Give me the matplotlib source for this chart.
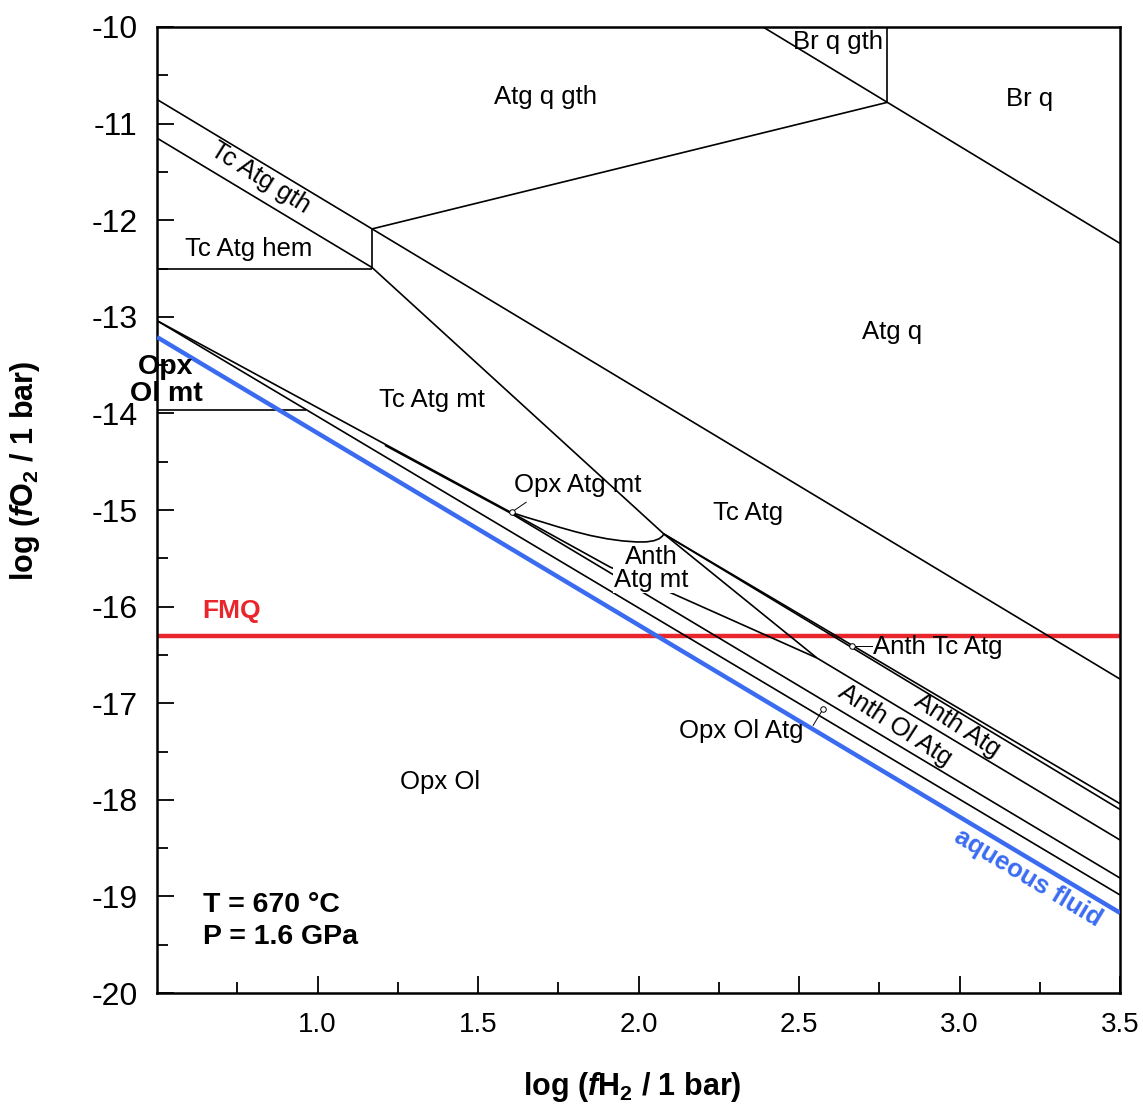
import matplotlib
matplotlib.use('Agg')
import matplotlib.pyplot as plt

plt.rcParams['font.family'] = ['Liberation Sans', 'DejaVu Sans']
plt.rcParams['axes.unicode_minus'] = False
plt.rcParams['mathtext.fontset'] = 'custom'
plt.rcParams['mathtext.rm'] = 'Liberation Sans:bold'
plt.rcParams['mathtext.it'] = 'Liberation Sans:italic:bold'
plt.rcParams['mathtext.bf'] = 'Liberation Sans:bold'

# ---- phase boundaries: x = log fH2, y = log fO2 ----
tc_atg_gth_top_x = [0.5, 3.5]
tc_atg_gth_top_y = [-10.75, -16.75]
tc_atg_gth_bot_x = [0.5, 1.17, 2.079]
tc_atg_gth_bot_y = [-11.15, -12.49, -15.248]
hem_x = [0.5, 1.17]
hem_y = [-12.5, -12.5]
hem_gth_x = [1.17, 1.17]
hem_gth_y = [-12.09, -12.5]
atg_q_gth_x = [1.17, 2.775]
atg_q_gth_y = [-12.09, -10.78]
br_q_gth_x = [2.775, 2.775]
br_q_gth_y = [-10.0, -10.78]
br_q_x = [2.388, 3.5]
br_q_y = [-10.0, -12.24]
opx_ol_mt_x = [0.5, 0.965]
opx_ol_mt_y = [-13.965, -13.965]
tc_atg_mt_low_x = [0.5, 1.60]
tc_atg_mt_low_y = [-13.04, -15.02]
opx_ol_x = [0.5, 3.5]
opx_ol_y = [-13.04, -18.985]
opx_atg_mt_low_x = [1.21, 1.60, 3.5]
opx_atg_mt_low_y = [-14.33, -15.03, -18.81]
anth_curve_x = [1.600, 1.650, 1.700, 1.750, 1.800, 1.850, 1.902, 1.950,
                1.995, 2.025, 2.048, 2.064, 2.074, 2.079]
anth_curve_y = [-15.02, -15.075, -15.124, -15.175, -15.222, -15.264, -15.298, -15.320,
                -15.331, -15.330, -15.318, -15.298, -15.272, -15.248]
anth_atg_mt_low_x = [1.60, 1.911, 2.067, 2.556]
anth_atg_mt_low_y = [-15.02, -15.59, -15.807, -16.532]
anth_steep_x = [2.079, 2.556]
anth_steep_y = [-15.248, -16.532]
anth_ol_atg_top_x = [2.556, 3.5]
anth_ol_atg_top_y = [-16.532, -18.416]
anth_tc_atg_a_x = [2.079, 3.5]
anth_tc_atg_a_y = [-15.248, -18.04]
anth_tc_atg_b_x = [2.079, 3.5]
anth_tc_atg_b_y = [-15.248, -18.10]

fmq_y = -16.3
fluid_x = [0.5, 3.5]
fluid_y = [-13.21, -19.17]

# leader lines
lead_opx_atg_mt_x = [1.606, 1.65]
lead_opx_atg_mt_y = [-15.02, -14.92]
lead_anth_tc_atg_x = [2.665, 2.727]
lead_anth_tc_atg_y = [-16.41, -16.41]
lead_opx_ol_atg_x = [2.575, 2.544]
lead_opx_ol_atg_y = [-17.06, -17.23]

fig = plt.figure(figsize=(11.43, 11.06), dpi=100)
ax = fig.add_axes([157/1143, 1-993/1106, 963/1143, 966/1106])

lw = 1.2
black_lines = [
    (tc_atg_gth_top_x, tc_atg_gth_top_y), (tc_atg_gth_bot_x, tc_atg_gth_bot_y),
    (hem_x, hem_y), (hem_gth_x, hem_gth_y), (atg_q_gth_x, atg_q_gth_y),
    (br_q_gth_x, br_q_gth_y), (br_q_x, br_q_y), (opx_ol_mt_x, opx_ol_mt_y),
    (tc_atg_mt_low_x, tc_atg_mt_low_y), (opx_ol_x, opx_ol_y),
    (opx_atg_mt_low_x, opx_atg_mt_low_y), (anth_curve_x, anth_curve_y),
    (anth_atg_mt_low_x, anth_atg_mt_low_y), (anth_steep_x, anth_steep_y),
    (anth_ol_atg_top_x, anth_ol_atg_top_y), (anth_tc_atg_a_x, anth_tc_atg_a_y),
    (anth_tc_atg_b_x, anth_tc_atg_b_y),
]
for xs, ys in black_lines:
    ax.plot(xs, ys, color='black', lw=lw, zorder=2, solid_capstyle='butt',
            solid_joinstyle='round')

for xs, ys in [(lead_opx_atg_mt_x, lead_opx_atg_mt_y),
               (lead_anth_tc_atg_x, lead_anth_tc_atg_y),
               (lead_opx_ol_atg_x, lead_opx_ol_atg_y)]:
    ax.plot(xs, ys, color='black', lw=0.7, zorder=2)
    ax.plot(xs[0], ys[0], marker='o', ms=4, mfc='white', mec='black', mew=0.7, zorder=2)

ax.axhline(fmq_y, color='#e8262b', lw=3.2, zorder=1)
ax.plot(fluid_x, fluid_y, color='#3b6cf0', lw=3.2, zorder=3, solid_capstyle='butt')

fs = 18.5
def lab(x, y, s, **kw):
    d = dict(fontsize=fs, ha='center', va='center', zorder=4)
    d.update(kw)
    ax.text(x, y, s, **d)

lab(2.621, -10.16, 'Br q gth')
lab(3.217, -10.745, 'Br q')
lab(1.709, -10.725, 'Atg q gth')
lab(0.821, -11.563, 'Tc Atg gth', rotation=-32, rotation_mode='anchor')
lab(0.787, -12.298, 'Tc Atg hem')
lab(2.790, -13.157, 'Atg q')
lab(0.528, -13.52, 'Opx', fontweight='bold', fontsize=20.5)
lab(0.528, -13.80, 'Ol mt', fontweight='bold', fontsize=20.5)
lab(1.357, -13.861, 'Tc Atg mt')
lab(1.811, -14.741, 'Opx Atg mt')
lab(2.341, -15.031, 'Tc Atg')
lab(2.039, -15.487, 'Anth')
lab(2.039, -15.725, 'Atg mt', bbox=dict(facecolor='white', edgecolor='none', pad=0.5))
lab(2.732, -16.418, 'Anth Tc Atg', ha='left')
lab(2.992, -17.226, 'Anth Atg', rotation=-33, rotation_mode='anchor')
lab(2.799, -17.226, 'Anth Ol Atg', rotation=-33, rotation_mode='anchor')
lab(2.319, -17.288, 'Opx Ol Atg')
lab(1.382, -17.816, 'Opx Ol')
lab(3.213, -18.81, 'aqueous fluid', color='#3b6cf0', fontweight='bold',
    rotation=-31, rotation_mode='anchor')
lab(0.64, -16.046, 'FMQ', color='#e8262b', fontweight='bold', ha='left', fontsize=19)
lab(0.643, -19.09, 'T = 670 °C', fontweight='bold', ha='left', fontsize=20.5)
lab(0.643, -19.42, 'P = 1.6 GPa', fontweight='bold', ha='left', fontsize=20.5)

ax.set_xlim(0.5, 3.5)
ax.set_ylim(-20, -10)
ax.set_xticks([1.0, 1.5, 2.0, 2.5, 3.0, 3.5])
ax.set_xticks([0.75, 1.25, 1.75, 2.25, 2.75, 3.25], minor=True)
ax.set_yticks(list(range(-20, -9)))
ax.set_yticks([v + 0.5 for v in range(-20, -10)], minor=True)
ax.tick_params(axis='both', which='both', direction='in', width=1.3)
ax.tick_params(axis='both', which='major', length=12)
ax.tick_params(axis='both', which='minor', length=8)
ax.tick_params(axis='x', which='major', labelsize=20, pad=14)
ax.tick_params(axis='y', which='major', labelsize=23, pad=14)
for sp in ax.spines.values():
    sp.set_linewidth(1.8)

ax.set_xlabel(r'log ($\it{f}$H$_2$ / 1 bar)', fontsize=22, fontweight='bold')
ax.xaxis.set_label_coords((632-157)/963, (993-1087)/966)
ax.xaxis.label.set_verticalalignment('center')
ax.set_ylabel(r'log ($\it{f}$O$_2$ / 1 bar)', fontsize=22, fontweight='bold')
ax.yaxis.set_label_coords((25-157)/963, (993-471)/966)
ax.yaxis.label.set_verticalalignment('center')

fig.savefig('out.png', dpi=100)
